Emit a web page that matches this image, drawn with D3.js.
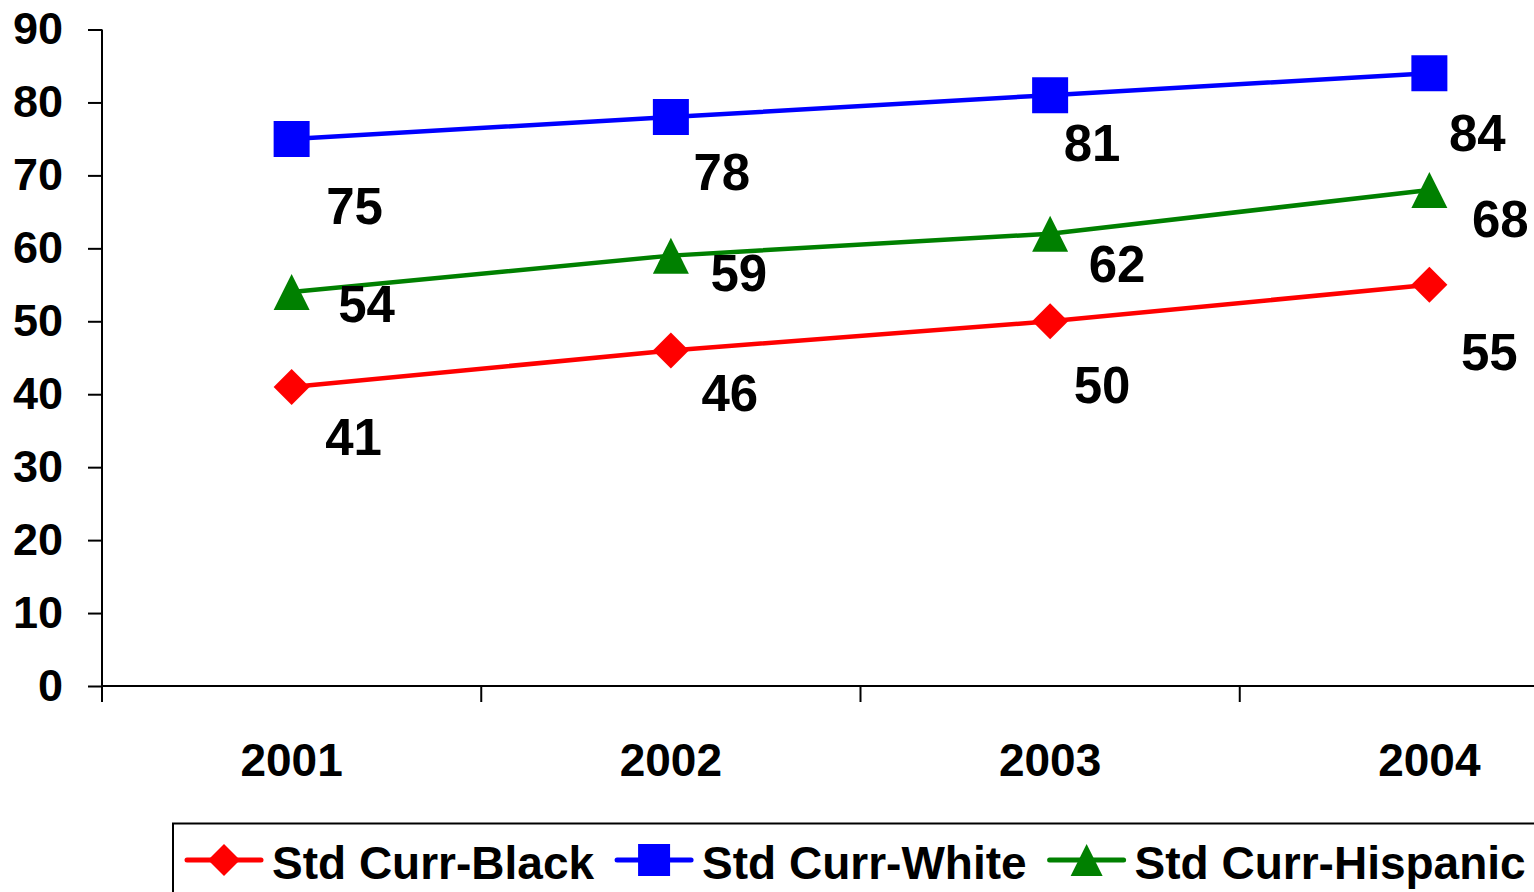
<!DOCTYPE html>
<html>
<head>
<meta charset="utf-8">
<script src="https://cdn.jsdelivr.net/npm/d3@7"></script>
<style>
  html, body { margin: 0; padding: 0; background: #fff; overflow: hidden; }
  svg { display: block; }
  text { font-family: "Liberation Sans", Arial, sans-serif; font-weight: bold; fill: #000; }
</style>
</head>
<body>
<svg id="chart" width="1534" height="892"></svg>
<script>
// ---- data ----
const years = ["2001", "2002", "2003", "2004"];
const yTicks = [0, 10, 20, 30, 40, 50, 60, 70, 80, 90];
const seriesNames = ["Std Curr-Black", "Std Curr-White", "Std Curr-Hispanic"];
const blackValues = [41, 46, 50, 55];
const whiteValues = [75, 78, 81, 84];
const hispanicValues = [54, 59, 62, 68];

// ---- layout / style (kept separate from data) ----
const seriesColors = ["#ff0000", "#0000ff", "#008000"];
const seriesShapes = ["diamond", "square", "triangle"];
// data-label offsets (px) from each point: [dx to text centre, dy to baseline]
const blackLabelOffsets = [[62, 68], [59, 61], [52, 82], [60, 85]];
const whiteLabelOffsets = [[63, 85], [51, 73], [42, 66], [48, 78]];
const hispanicLabelOffsets = [[75, 30], [68, 35], [67, 48], [71, 47]];

const series = [
  { name: seriesNames[0], values: blackValues, color: seriesColors[0], shape: seriesShapes[0], offsets: blackLabelOffsets },
  { name: seriesNames[1], values: whiteValues, color: seriesColors[1], shape: seriesShapes[1], offsets: whiteLabelOffsets },
  { name: seriesNames[2], values: hispanicValues, color: seriesColors[2], shape: seriesShapes[2], offsets: hispanicLabelOffsets }
];

const svg = d3.select("#chart");

const plotLeft = 102, plotRight = 1619, plotTop = 29.5, plotBottom = 686;

const x = d3.scaleBand().domain(years).range([plotLeft, plotRight]).paddingInner(0).paddingOuter(0);
const y = d3.scaleLinear().domain([0, 90]).range([plotBottom, plotTop]);

// ---- axes ----
const yAxis = d3.axisLeft(y).tickValues(yTicks).tickSize(14).tickPadding(25).tickFormat(d3.format("d"));
const gy = svg.append("g").attr("transform", `translate(${plotLeft},0)`).call(yAxis);
gy.select(".domain").remove();
gy.selectAll(".tick line").attr("stroke", "#000").attr("stroke-width", 2);
gy.selectAll(".tick text").attr("font-size", 45).attr("font-family", "Liberation Sans, Arial, sans-serif")
  .attr("font-weight", "bold").attr("fill", "#000").attr("dy", "0.32em");
svg.append("line").attr("x1", plotLeft).attr("x2", plotLeft).attr("y1", plotTop).attr("y2", plotBottom + 16)
  .attr("stroke", "#000").attr("stroke-width", 2);

// x axis line and category boundary ticks
svg.append("line").attr("x1", plotLeft).attr("x2", plotRight).attr("y1", plotBottom).attr("y2", plotBottom)
  .attr("stroke", "#000").attr("stroke-width", 2);
const boundaries = years.map(d => x(d)).concat([plotRight]);
svg.append("g").selectAll("line").data(boundaries.slice(1)).join("line")
  .attr("x1", d => d).attr("x2", d => d).attr("y1", plotBottom).attr("y2", plotBottom + 16)
  .attr("stroke", "#000").attr("stroke-width", 2);
svg.append("g").selectAll("text").data(years).join("text")
  .attr("x", d => x(d) + x.bandwidth() / 2).attr("y", 776)
  .attr("text-anchor", "middle").attr("font-size", 46).text(d => d);

// ---- markers ----
function markerPath(shape, s) {
  const h = s / 2;
  if (shape === "square") return `M${-h},${-h}H${h}V${h}H${-h}Z`;
  if (shape === "diamond") return `M0,${-h}L${h},0L0,${h}L${-h},0Z`;
  return `M0,${-h}L${h},${h}L${-h},${h}Z`;
}

const cx = d => x(d) + x.bandwidth() / 2;

series.forEach(s => {
  const pts = years.map((yr, i) => ({ yr, v: s.values[i], off: s.offsets[i] }));
  const line = d3.line().x(p => cx(p.yr)).y(p => y(p.v));
  const g = svg.append("g");
  g.append("path").datum(pts).attr("d", line).attr("fill", "none")
    .attr("stroke", s.color).attr("stroke-width", 4.5);
  g.selectAll("path.m").data(pts).join("path").attr("class", "m")
    .attr("transform", p => `translate(${cx(p.yr)},${y(p.v)})`)
    .attr("d", markerPath(s.shape, 36)).attr("fill", s.color);
  g.selectAll("text").data(pts).join("text")
    .attr("x", p => cx(p.yr) + p.off[0]).attr("y", p => y(p.v) + p.off[1])
    .attr("text-anchor", "middle").attr("font-size", 51).text(p => p.v);
});

// ---- legend ----
const lg = svg.append("g");
lg.append("rect").attr("x", 173).attr("y", 823.5).attr("width", 1500).attr("height", 200)
  .attr("fill", "#fff").attr("stroke", "#000").attr("stroke-width", 2);
let lx = 187;
const lyLine = 860, lyText = 879;
series.forEach(s => {
  lg.append("line").attr("x1", lx).attr("x2", lx + 74).attr("y1", lyLine).attr("y2", lyLine)
    .attr("stroke", s.color).attr("stroke-width", 5).attr("stroke-linecap", "round");
  lg.append("path").attr("transform", `translate(${lx + 37},${lyLine})`)
    .attr("d", markerPath(s.shape, 32)).attr("fill", s.color);
  const t = lg.append("text").attr("x", lx + 85).attr("y", lyText).attr("font-size", 46).text(s.name);
  lx = lx + 85 + t.node().getComputedTextLength() + 23;
});
</script>
</body>
</html>
